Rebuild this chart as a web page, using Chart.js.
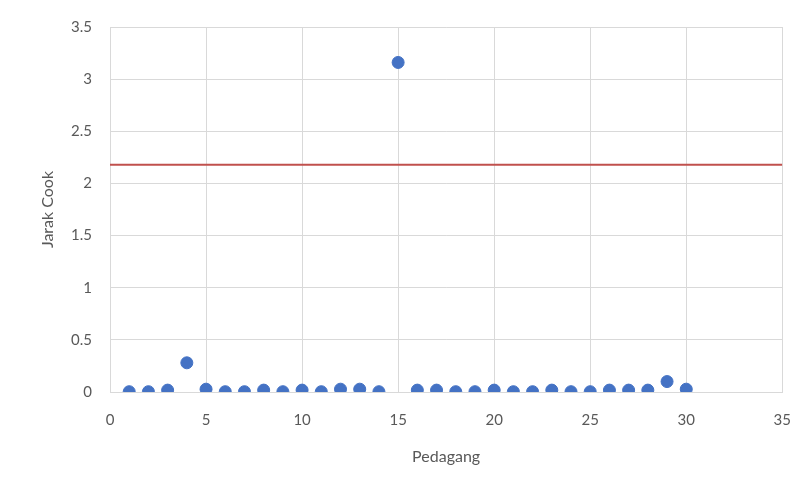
<!DOCTYPE html>
<html>
<head>
<meta charset="utf-8">
<script src="https://cdn.jsdelivr.net/npm/chart.js@4"></script>
<style>
  html, body { margin: 0; padding: 0; background: #fff; }
  #wrap { width: 810px; height: 489px; position: relative; }
</style>
</head>
<body>
<div id="wrap"><canvas id="chart-cook"></canvas></div>
<script>
// Pedagang (x) dan Jarak Cook (y)
const pedagang = [1, 2, 3, 4, 5, 6, 7, 8, 9, 10, 11, 12, 13, 14, 15,
                  16, 17, 18, 19, 20, 21, 22, 23, 24, 25, 26, 27, 28, 29, 30];
const jarakCook = [0.003, 0.003, 0.018, 0.28, 0.027, 0.003, 0.003, 0.018, 0.003, 0.018,
                   0.003, 0.027, 0.027, 0.003, 3.16, 0.018, 0.018, 0.003, 0.003, 0.018,
                   0.003, 0.003, 0.018, 0.003, 0.003, 0.018, 0.018, 0.018, 0.1, 0.027];
const batasX = [0, 35];
const batasCook = 2.18;

const fontFam = 'Lato, "Open Sans", sans-serif';
const grey = '#595959';

const ctx = document.getElementById('chart-cook').getContext('2d');
new Chart(ctx, {
  type: 'scatter',
  data: {
    datasets: [
      {
        label: 'Jarak Cook',
        data: pedagang.map((x, i) => ({ x, y: jarakCook[i] })),
        backgroundColor: '#4472c4',
        borderColor: '#4472c4',
        pointRadius: 6,
        pointHoverRadius: 6,
        order: 1
      },
      {
        label: 'Batas',
        type: 'line',
        data: batasX.map(x => ({ x, y: batasCook })),
        borderColor: '#c0504d',
        borderWidth: 2,
        pointRadius: 0,
        fill: false,
        order: 2
      }
    ]
  },
  options: {
    responsive: true,
    maintainAspectRatio: false,
    animation: false,
    layout: { padding: { top: 25, right: 27, bottom: 0, left: 0 } },
    plugins: { legend: { display: false }, tooltip: { enabled: false } },
    scales: {
      x: {
        type: 'linear',
        min: 0, max: 35,
        ticks: { stepSize: 5, color: grey, font: { family: fontFam, size: 15 }, padding: 19, maxRotation: 0 },
        grid: { color: '#d9d9d9', drawTicks: false },
        border: { color: '#d9d9d9' },
        title: { display: true, text: 'Pedagang', color: grey, font: { family: fontFam, size: 16 }, padding: { top: 6, bottom: 23 } },
        afterFit: s => { s.height = 97; }
      },
      y: {
        min: 0, max: 3.5,
        ticks: { stepSize: 0.5, color: grey, font: { family: fontFam, size: 15 }, padding: 18, callback: v => String(v) },
        grid: { color: '#d9d9d9', drawTicks: false },
        border: { display: false },
        title: { display: true, text: 'Jarak Cook', color: grey, font: { family: fontFam, size: 16 }, padding: { top: 38, bottom: 4 } },
        afterFit: s => { s.width = 110; }
      }
    }
  }
});
</script>
</body>
</html>
